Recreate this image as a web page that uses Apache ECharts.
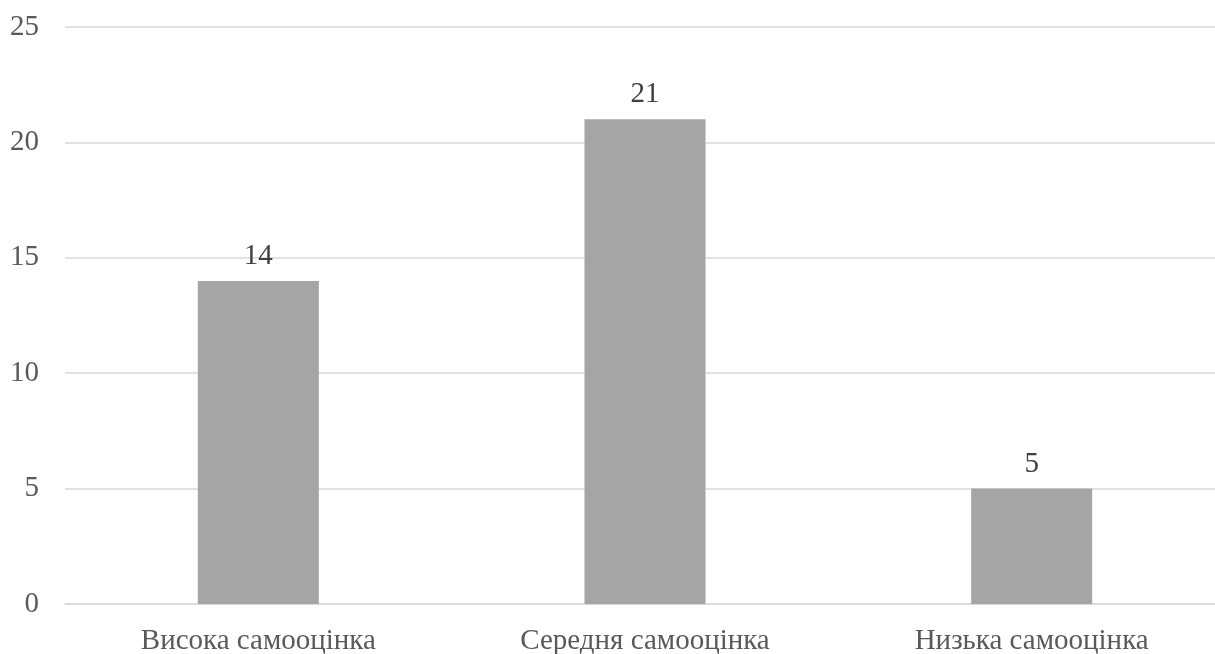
<!DOCTYPE html>
<html>
<head>
<meta charset="utf-8">
<script src="https://cdn.jsdelivr.net/npm/echarts@6/dist/echarts.min.js"></script>
<style>
  html, body { margin: 0; padding: 0; background: #ffffff; }
  #chart { width: 1215px; height: 654px; }
</style>
</head>
<body>
<div id="chart"></div>
<script>
// Self-esteem level groups and respondent counts
const categories = ['Висока самооцінка', 'Середня самооцінка', 'Низька самооцінка'];
const counts = [14, 21, 5];
const yTicks = [0, 5, 10, 15, 20, 25];

const FONT = '"Liberation Serif", "Times New Roman", serif';

const chart = echarts.init(document.getElementById('chart'), null, { renderer: 'canvas' });

chart.setOption({
  animation: false,
  backgroundColor: '#ffffff',
  // the plot area runs slightly past the right edge of the canvas
  grid: {
    left: 65, top: 27, right: -10, bottom: 50,
    containLabel: false,
    outerBoundsMode: 'none'
  },
  xAxis: {
    type: 'category',
    data: categories,
    axisLine: { show: true, lineStyle: { color: '#d9d9d9', width: 1.5 } },
    axisTick: { show: false },
    axisLabel: { color: '#595959', fontFamily: FONT, fontSize: 29, margin: 23 }
  },
  yAxis: {
    type: 'value',
    min: yTicks[0],
    max: yTicks[yTicks.length - 1],
    interval: yTicks[1] - yTicks[0],
    axisLine: { show: false },
    axisTick: { show: false },
    splitLine: { lineStyle: { color: '#d9d9d9', width: 1.5 } },
    axisLabel: { color: '#595959', fontFamily: FONT, fontSize: 29, margin: 26 }
  },
  series: [{
    type: 'bar',
    data: counts,
    barWidth: '31.3%',
    itemStyle: { color: '#a5a5a5' },
    label: {
      show: true,
      position: 'top',
      distance: 10,
      color: '#404040',
      fontFamily: FONT,
      fontSize: 29
    }
  }]
});
</script>
</body>
</html>
